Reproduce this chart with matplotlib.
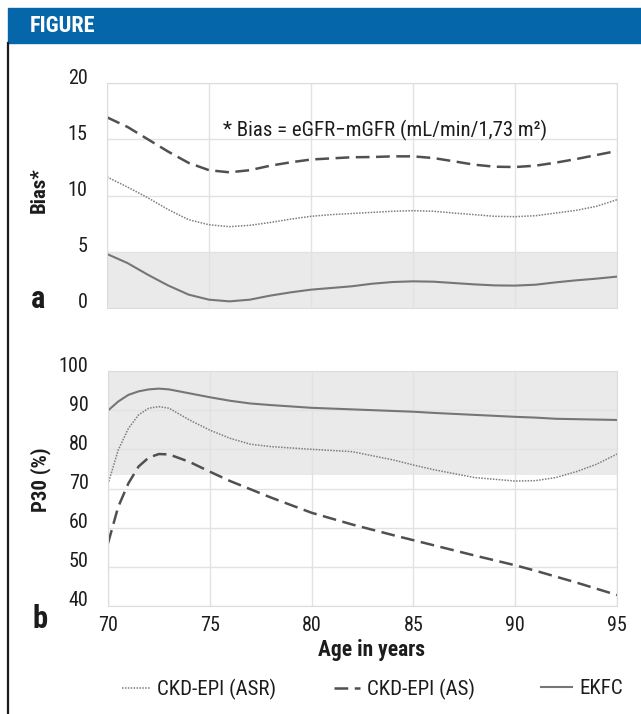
import matplotlib
matplotlib.use("Agg")
import matplotlib.pyplot as plt
import matplotlib.transforms as mtransforms
from matplotlib.patches import Rectangle
from matplotlib.lines import Line2D

plt.rcParams['font.family'] = ['Roboto Condensed', 'Archivo Narrow', 'DejaVu Sans']

# panel a : bias by age
years_a = list(range(70, 96))
bias_asr = [11.65, 10.75, 9.8, 8.75, 7.85, 7.4, 7.23, 7.35, 7.6, 7.9, 8.15, 8.3, 8.4,
            8.5, 8.6, 8.65, 8.6, 8.44, 8.3, 8.15, 8.12, 8.2, 8.44, 8.68, 9.04, 9.63]
bias_as = [16.95, 16.1, 15.0, 13.9, 12.9, 12.25, 12.06, 12.25, 12.65, 12.95, 13.2, 13.3, 13.4,
           13.42, 13.48, 13.48, 13.33, 13.04, 12.74, 12.56, 12.53, 12.65, 12.92, 13.24, 13.6, 13.96]
bias_ekfc = [4.8, 4.0, 2.96, 2.0, 1.19, 0.74, 0.59, 0.74, 1.1, 1.39, 1.63, 1.78, 1.93,
             2.16, 2.31, 2.37, 2.34, 2.22, 2.1, 2.01, 1.99, 2.07, 2.28, 2.46, 2.61, 2.79]

# panel b : P30 by age
years_b = [70, 70.5, 71, 71.5, 72, 72.5, 73, 74, 75, 76, 77, 78, 80, 82, 84, 85, 86, 88,
           90, 91, 92, 93, 94, 95]
p30_asr = [71.1, 79.8, 85.3, 88.8, 90.5, 90.9, 90.5, 87.5, 84.9, 82.8, 81.3, 80.7, 80.0, 79.4,
           77.3, 76.0, 74.8, 72.8, 71.9, 72.0, 72.8, 74.3, 76.2, 78.8]
p30_as = [56.0, 65.3, 71.3, 75.6, 77.9, 78.8, 78.7, 76.8, 74.3, 71.9, 69.8, 67.7, 63.8, 60.8,
          58.1, 56.8, 55.5, 52.9, 50.4, 49.0, 47.5, 46.0, 44.4, 42.8]
p30_ekfc = [89.9, 92.2, 93.9, 94.8, 95.3, 95.5, 95.3, 94.3, 93.3, 92.4, 91.7, 91.3, 90.6, 90.2,
            89.8, 89.6, 89.3, 88.8, 88.3, 88.1, 87.8, 87.7, 87.6, 87.5]

x_ticks = [70, 75, 80, 85, 90, 95]
bias_ticks = [0, 5, 10, 15, 20]
p30_ticks = [40, 50, 60, 70, 80, 90, 100]
bias_band = (0, 5)
p30_band = (73.4, 100)

W, H = 641, 714
TXT = '#1c1c1c'
fig = plt.figure(figsize=(W / 100, H / 100), dpi=100)


def px(x, y):
    return x / W, 1 - y / H


def axes_box(left, top, right, bottom):
    return [left / W, 1 - bottom / H, (right - left) / W, (bottom - top) / H]


# header bar and left rule
fig.patches.append(Rectangle(px(8, 43), (W - 8) / W, 35 / H, transform=fig.transFigure,
                             color='#0566aa', zorder=0))
fig.text(*px(30, 26), 'FIGURE', color='white', fontsize=16, fontweight='bold', va='center')
fig.lines.append(Line2D([7.5 / W, 7.5 / W], [0, 1 - 43 / H], transform=fig.transFigure,
                        color='#1a1a1a', lw=1.6))

ax_a = fig.add_axes(axes_box(107, 83, 617, 308))
ax_b = fig.add_axes(axes_box(108, 371, 617, 606))

asr_style = dict(color='#7d7d7d', lw=1.1, linestyle=(0, (1, 0.9)))
as_style = dict(color='#505050', lw=1.8, dashes=(5.5, 2.6))
ekfc_style = dict(color='#767676', lw=1.5)

ax_a.plot(years_a, bias_asr, **asr_style)
ax_a.plot(years_a, bias_as, **as_style)
ax_a.plot(years_a, bias_ekfc, **ekfc_style)
ax_a.axhspan(*bias_band, color='#eaeaea', zorder=0, lw=0)

l_asr, = ax_b.plot(years_b, p30_asr, label='CKD-EPI (ASR)', **asr_style)
l_as, = ax_b.plot(years_b, p30_as, label='CKD-EPI (AS)', **as_style)
l_ekfc, = ax_b.plot(years_b, p30_ekfc, label='EKFC', **ekfc_style)
ax_b.axhspan(*p30_band, color='#eaeaea', zorder=0, lw=0)

shift = mtransforms.ScaledTranslation(0, 7 / 100, fig.dpi_scale_trans)
for ax, ticks in ((ax_a, bias_ticks), (ax_b, p30_ticks)):
    ax.set_xlim(70, 95)
    ax.set_ylim(ticks[0], ticks[-1])
    ax.set_xticks(x_ticks)
    ax.set_yticks(ticks)
    ax.grid(True, color='#e2e2e2', lw=1)
    ax.set_axisbelow(True)
    for s in ax.spines.values():
        s.set_color('#dcdcdc')
    ax.tick_params(length=0, labelsize=14.5, colors=TXT)
    ax.tick_params(axis='y', pad=14)
    ax.tick_params(axis='x', pad=7)
    for lab in ax.get_yticklabels():
        lab.set_transform(lab.get_transform() + shift)

ax_a.tick_params(axis='x', labelbottom=False)

ax_a.text(83.65, 15.8, '* Bias = eGFR\u2212mGFR (mL/min/1,73 m\u00b2)', fontsize=15,
          color=TXT, ha='center', va='center')

fig.text(*px(39, 190), 'Bias*', rotation=90, fontsize=15, fontweight='bold',
         ha='center', va='center', color=TXT)
fig.text(*px(41, 480), 'P30 (%)', rotation=90, fontsize=15, fontweight='bold',
         ha='center', va='center', color=TXT)
fig.text(*px(38, 299), 'a', fontsize=22, fontweight='bold', ha='center', va='center',
         color=TXT)
fig.text(*px(40, 619), 'b', fontsize=22, fontweight='bold', ha='center', va='center',
         color=TXT)
fig.text(*px(371, 650), 'Age in years', fontsize=15.5, fontweight='bold', ha='center',
         va='center', color=TXT)

# one legend entry per slot, spread across the bottom like the original
for handle, left, hlen in ((l_asr, 122, 1.35), (l_as, 334, 1.25), (l_ekfc, 541, 1.5)):
    fig.legend(handles=[handle], loc='center left', bbox_to_anchor=px(left, 689),
               frameon=False, fontsize=15, handlelength=hlen, handletextpad=0.35,
               borderpad=0, borderaxespad=0, labelcolor=TXT)

fig.savefig('out.png', dpi=100)
